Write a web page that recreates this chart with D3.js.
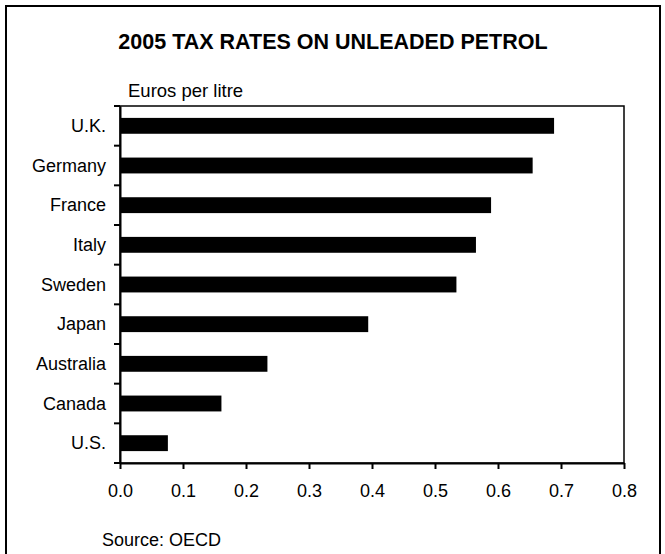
<!DOCTYPE html>
<html>
<head>
<meta charset="UTF-8">
<title>2005 tax rates on unleaded petrol</title>
<script src="https://d3js.org/d3.v7.min.js"></script>
<style>
  body { margin: 0; background: #fff; }
  text { font-family: Arial, "Liberation Sans", sans-serif; fill: #000; }
</style>
</head>
<body>
<div id="chart"></div>
<script>
// data
let countries = ["U.K.", "Germany", "France", "Italy", "Sweden", "Japan", "Australia", "Canada", "U.S."]
let rates = [0.689, 0.655, 0.589, 0.565, 0.534, 0.394, 0.234, 0.161, 0.076]
let xTicks = [0, 0.1, 0.2, 0.3, 0.4, 0.5, 0.6, 0.7, 0.8]

let W = 665, H = 554
let mLeft = 120, mRight = 624, mTop = 106, mBottom = 463

let svg = d3.select("#chart").append("svg").attr("width", W).attr("height", H)

// outer frame
svg.append("rect").attr("x", 6).attr("y", 6).attr("width", 654).attr("height", 560)
  .attr("fill", "none").attr("stroke", "#000").attr("stroke-width", 2)

let x = d3.scaleLinear().domain([0, 0.8]).range([mLeft, mRight])
let y = d3.scaleBand().domain(countries).range([mTop, mBottom]).paddingInner(0.6).paddingOuter(0.3)

// plot box
svg.append("rect").attr("x", mLeft).attr("y", mTop).attr("width", mRight - mLeft).attr("height", mBottom - mTop)
  .attr("fill", "none").attr("stroke", "#000").attr("stroke-width", 1.5)

svg.selectAll(".bar").data(countries).enter().append("rect")
  .attr("class", "bar")
  .attr("x", x(0))
  .attr("y", d => y(d))
  .attr("width", (d, i) => x(rates[i]) - x(0))
  .attr("height", y.bandwidth())
  .attr("fill", "#000")

// x axis
let xAxis = svg.append("g").attr("transform", "translate(0," + mBottom + ")")
  .call(d3.axisBottom(x).tickValues(xTicks).tickFormat(d3.format(".1f")).tickSize(6).tickSizeOuter(0))
xAxis.select(".domain").attr("stroke-width", 2)
xAxis.selectAll(".tick line").attr("stroke-width", 2)
xAxis.selectAll(".tick text").attr("font-size", 18).attr("y", 0).attr("dy", "34px")
  .style("font-family", "Arial, 'Liberation Sans', sans-serif")

// y axis: ticks between the categories
let yAxis = svg.append("g").attr("transform", "translate(" + mLeft + ",0)")
  .call(d3.axisLeft(y).tickSize(0).tickSizeOuter(0))
yAxis.select(".domain").attr("stroke-width", 2)
yAxis.selectAll(".tick text").attr("font-size", 18).attr("x", -14).attr("dy", "0.35em")
  .style("font-family", "Arial, 'Liberation Sans', sans-serif")

let bounds = d3.range(countries.length + 1).map(i => mTop + i * (mBottom - mTop) / countries.length)
svg.selectAll(".ytick").data(bounds).enter().append("line")
  .attr("x1", mLeft - 6).attr("x2", mLeft)
  .attr("y1", d => d).attr("y2", d => d)
  .attr("stroke", "#000").attr("stroke-width", 2)

// texts
svg.append("text").attr("x", 333).attr("y", 49).attr("text-anchor", "middle")
  .attr("font-size", 21.5).attr("font-weight", "bold").text("2005 TAX RATES ON UNLEADED PETROL")
svg.append("text").attr("x", 128).attr("y", 97).attr("font-size", 18.5).text("Euros per litre")
svg.append("text").attr("x", 102).attr("y", 546).attr("font-size", 18).text("Source: OECD")
</script>
</body>
</html>
